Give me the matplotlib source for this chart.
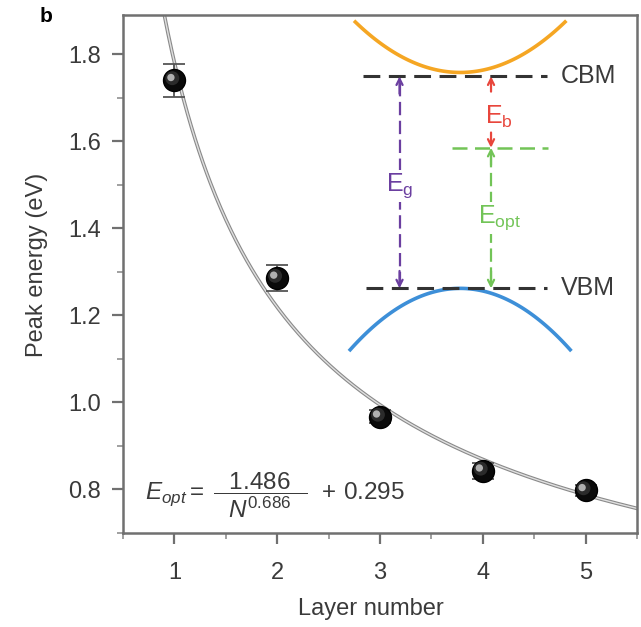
import numpy as np
import matplotlib
matplotlib.use("Agg")
import matplotlib.pyplot as plt
import matplotlib.transforms as mtransforms

plt.rcParams['font.family'] = ['Liberation Sans', 'DejaVu Sans']
plt.rcParams['mathtext.fontset'] = 'custom'
plt.rcParams['mathtext.rm'] = 'Liberation Sans'
plt.rcParams['mathtext.it'] = 'Liberation Sans:italic'

# data
layers = [1, 2, 3, 4, 5]
peak_energy = [1.740, 1.286, 0.967, 0.843, 0.798]
peak_err = [0.038, 0.030, 0.015, 0.018, 0.012]
fit_a, fit_b, fit_c = 1.486, 0.686, 0.295
x_ticks = [1, 2, 3, 4, 5]
y_ticks = [0.8, 1.0, 1.2, 1.4, 1.6, 1.8]

fig = plt.figure(figsize=(6.41, 6.27), dpi=100)
ax = fig.add_axes([123/641, 1-533/627, (637-123)/641, (533-15)/627])
ax.set_xlim(0.5, 5.5)
ax.set_ylim(0.70, 1.89)

spine_c = '#707070'
for s in ax.spines.values():
    s.set_color(spine_c)
    s.set_linewidth(1.8)

txt_c = '#3a3a3a'
ax.set_xticks(x_ticks)
ax.set_yticks(y_ticks)
ax.set_yticklabels([f'{v:.1f}' for v in y_ticks])
ax.set_xticks(np.arange(0.5, 5.6, 0.5), minor=True)
ax.set_yticks(np.arange(0.7, 1.9, 0.1), minor=True)
ax.tick_params(which='major', direction='out', length=8, width=1.6, color=spine_c,
               labelsize=17, labelcolor=txt_c)
ax.tick_params(which='minor', direction='out', length=4, width=1.2, color='#909090')
ax.tick_params(axis='x', which='major', pad=13)
ax.tick_params(axis='y', which='major', pad=8)

ax.set_xlabel('Layer number', fontsize=17, color=txt_c)
ax.set_ylabel('Peak energy (eV)', fontsize=17, color=txt_c)
ax.xaxis.set_label_coords(0.482, -0.125)
ax.yaxis.set_label_coords(-0.146, 0.517)

# fit curve
xf = np.linspace(0.5, 5.5, 400)
yf = fit_a / xf**fit_b + fit_c
ax.plot(xf, yf, color='#8a8a8a', lw=2.6, zorder=2)
ax.plot(xf, yf, color='#e0e0e0', lw=1.0, zorder=2)

# data
ax.errorbar(layers, peak_energy, yerr=peak_err, fmt='none', ecolor='#555555',
            elinewidth=1.3, capsize=8, capthick=1.3, zorder=3)
ax.scatter(layers, peak_energy, s=250, color='#0a0a0a', edgecolor='#000000', zorder=4)
off1 = mtransforms.offset_copy(ax.transData, fig=fig, x=-1.5, y=1.5, units='points')
ax.scatter(layers, peak_energy, s=100, color='#3a3a3a', edgecolor='none', zorder=5,
           transform=off1, alpha=0.7)
off2 = mtransforms.offset_copy(ax.transData, fig=fig, x=-2.5, y=2.0, units='points')
ax.scatter(layers, peak_energy, s=28, color='#c8c8c8', edgecolor='none', zorder=6,
           transform=off2, alpha=0.85)

# band diagram inset
orange = '#F5A623'
blue = '#3D8FD8'
cb_x = np.linspace(2.76, 4.80, 100)
cb_y = 1.758 + (1.874 - 1.758) * ((cb_x - 3.78) / 1.02)**2
ax.plot(cb_x, cb_y, color=orange, lw=2.6, zorder=2)
vb_x = np.linspace(2.71, 4.85, 100)
vb_y = 1.262 - (1.262 - 1.121) * ((vb_x - 3.78) / 1.07)**2
ax.plot(vb_x, vb_y, color=blue, lw=2.6, zorder=2)

cbm_y, vbm_y, opt_y = 1.749, 1.262, 1.585
ax.plot([2.83, 4.62], [cbm_y, cbm_y], color='#333333', lw=2.2, dashes=(5.5, 2.8), zorder=3)
ax.plot([2.86, 4.62], [vbm_y, vbm_y], color='#333333', lw=2.2, dashes=(5.5, 2.8), zorder=3)
green = '#72C457'
ax.plot([3.70, 4.63], [opt_y, opt_y], color=green, lw=1.8, dashes=(6, 3), zorder=3)
ax.text(4.76, cbm_y, 'CBM', fontsize=18, color=txt_c, va='center', ha='left')
ax.text(4.76, vbm_y, 'VBM', fontsize=18, color=txt_c, va='center', ha='left')


def heads(x, y_top, y_bot, color):
    for yy, yfrom in ((y_top, y_top - 0.04), (y_bot, y_bot + 0.04)):
        ax.annotate('', xy=(x, yy), xytext=(x, yfrom),
                    arrowprops=dict(arrowstyle='->', color=color, lw=1.6,
                                    shrinkA=0, shrinkB=0, mutation_scale=11))


purple = '#6B3FA0'
ax.plot([3.19, 3.19], [cbm_y - 0.015, vbm_y + 0.015], color=purple, lw=1.6,
        dashes=(6, 2.5), zorder=3)
heads(3.19, cbm_y, vbm_y, purple)
ax.text(3.19, 1.497, r'$\mathrm{E_g}$', fontsize=18, color=purple, ha='center', va='center',
        bbox=dict(facecolor='white', edgecolor='none', pad=1))

red = '#E8463C'
for yy, yfrom in ((cbm_y, cbm_y - 0.035), (opt_y, opt_y + 0.035)):
    ax.annotate('', xy=(4.08, yy), xytext=(4.08, yfrom),
                arrowprops=dict(arrowstyle='->', color=red, lw=1.6,
                                shrinkA=0, shrinkB=0, mutation_scale=11))
ax.text(4.16, 1.655, r'$\mathrm{E_b}$', fontsize=18, color=red, ha='center', va='center')

ax.plot([4.08, 4.08], [opt_y - 0.015, vbm_y + 0.015], color=green, lw=1.6,
        dashes=(6, 2.5), zorder=3)
heads(4.08, opt_y, vbm_y, green)
ax.text(4.16, 1.424, r'$\mathrm{E_{opt}}$', fontsize=18, color=green, ha='center', va='center',
        bbox=dict(facecolor='white', edgecolor='none', pad=1))

# equation
ax.text(0.715, 0.787, r'$E_{opt}=\;\dfrac{\ \;\,1.486\ \;\,}{N^{0.686}}\;\,+\,0.295$', fontsize=17.5,
        color=txt_c, ha='left', va='center')

fig.text(40/641, 1-16/627, 'b', fontsize=15, fontweight='bold', ha='left', va='center')

fig.savefig('out.png', dpi=100)
